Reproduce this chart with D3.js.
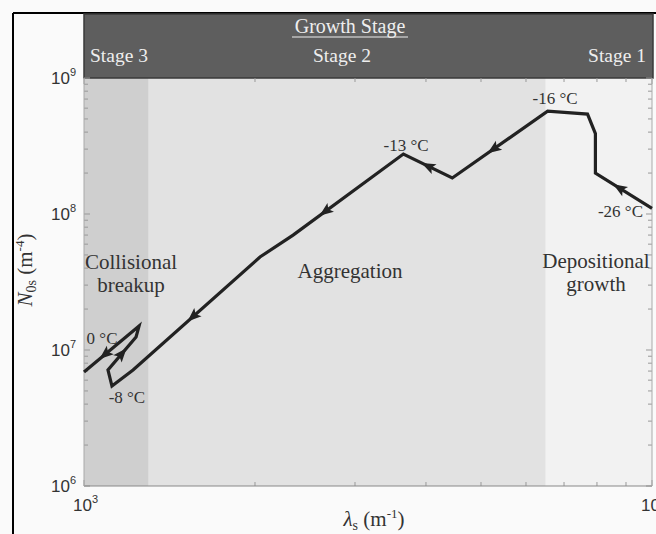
<!DOCTYPE html>
<html>
<head>
<meta charset="utf-8">
<script src="https://cdn.jsdelivr.net/npm/d3@7"></script>
<style>
  body { margin: 0; background: #fafafa; }
  svg { display: block; }
</style>
</head>
<body>
<svg id="chart"></svg>
<script>
// trajectory, from -26 C (right) to 0 C (left)
var lambdaVals = [10000, 7950, 7950, 7700, 6550, 4450, 3650, 2334, 2041, 1220, 1120, 1102, 1235, 1250, 1000];
var n0Vals     = [1.1e8, 2.0e8, 3.9e8, 5.43e8, 5.7e8, 1.84e8, 2.76e8, 7.0e7, 4.83e7, 7.13e6, 5.43e6, 7.13e6, 1.246e7, 1.5e7, 6.89e6];

// arrows: which segment and where on it
var arrowSeg = [0, 4, 5, 6, 8, 11, 13];
var arrowT   = [0.58, 0.57, 0.5, 0.71, 0.53, 0.5, 0.62];

// temperature labels
var tempText   = ["-26 °C", "-16 °C", "-13 °C", "-8 °C", "0 °C"];
var tempLambda = [8800, 6750, 3690, 1190, 1076];
var tempN0     = [9.5e7, 6.4e8, 2.9e8, 4.07e6, 1.107e7];

// stage bounds (lambda)
var stageNames = ["Stage 3", "Stage 2", "Stage 1"];
var stageFrom  = [1000, 1300, 6500];
var stageTo    = [1300, 6500, 10000];
var stageFill  = ["#cfcfcf", "#e2e2e2", "#f2f2f2"];

var xTicks = [1e3, 1e4], xExp = ["3", "4"];
var yTicks = [1e6, 1e7, 1e8, 1e9], yExp = ["6", "7", "8", "9"];

var W = 656, H = 534;
var pL = 84, pR = 652, pT = 78, pB = 486;

var svg = d3.select("#chart").attr("width", W).attr("height", H);

var x = d3.scaleLog().domain([1e3, 1e4]).range([pL, pR]);
var y = d3.scaleLog().domain([1e6, 1e9]).range([pB, pT]);

// frame
svg.append("rect").attr("width", W).attr("height", H).attr("fill", "#fafafa");
svg.append("line").attr("x1", 13).attr("x2", 13).attr("y1", 13).attr("y2", H).attr("stroke", "#000").attr("stroke-width", 2);
svg.append("line").attr("x1", 13).attr("x2", W).attr("y1", 13).attr("y2", 13).attr("stroke", "#000").attr("stroke-width", 2);

// stage shading
svg.selectAll(".stage").data(stageFrom).enter().append("rect")
  .attr("x", function(d) { return x(d); })
  .attr("width", function(d, i) { return x(stageTo[i]) - x(d); })
  .attr("y", pT).attr("height", pB - pT)
  .attr("fill", function(d, i) { return stageFill[i]; });

// header band
svg.append("rect").attr("x", pL).attr("y", 14).attr("width", pR - pL + 1).attr("height", pT - 14)
  .attr("fill", "#5e5e5e").attr("stroke", "#3a3a3a").attr("stroke-width", 1.5);

var serif = "'Liberation Serif', 'Times New Roman', serif";
var sans = "'Liberation Sans', Arial, sans-serif";

svg.append("text").attr("x", 350).attr("y", 33).attr("text-anchor", "middle")
  .attr("font-family", serif).attr("font-size", 20).attr("fill", "#eee").text("Growth Stage");
svg.append("line").attr("x1", 292).attr("x2", 408).attr("y1", 37).attr("y2", 37).attr("stroke", "#eee").attr("stroke-width", 1);

var stX = [90, 342, 646], stAnchor = ["start", "middle", "end"];
svg.selectAll(".stname").data(stageNames).enter().append("text")
  .attr("x", function(d, i) { return stX[i]; }).attr("y", 62)
  .attr("text-anchor", function(d, i) { return stAnchor[i]; })
  .attr("font-family", serif).attr("font-size", 19.5).attr("fill", "#eee")
  .text(function(d) { return d; });

// ticks
var minorX = [], minorY = [];
[1e3].forEach(function(b) { for (var k = 2; k <= 9; k++) minorX.push(b * k); });
[1e6, 1e7, 1e8].forEach(function(b) { for (var k = 2; k <= 9; k++) minorY.push(b * k); });

var tk = svg.append("g").attr("stroke", "#999").attr("stroke-width", 1);
xTicks.concat(minorX).forEach(function(v) {
  var len = xTicks.indexOf(v) >= 0 ? 6 : 4;
  tk.append("line").attr("x1", x(v)).attr("x2", x(v)).attr("y1", pB).attr("y2", pB - len);
  tk.append("line").attr("x1", x(v)).attr("x2", x(v)).attr("y1", pT).attr("y2", pT + len);
});
yTicks.concat(minorY).forEach(function(v) {
  var len = yTicks.indexOf(v) >= 0 ? 6 : 4;
  tk.append("line").attr("y1", y(v)).attr("y2", y(v)).attr("x1", pL).attr("x2", pL + len);
  tk.append("line").attr("y1", y(v)).attr("y2", y(v)).attr("x1", pR).attr("x2", pR - len);
});
svg.append("line").attr("x1", pL).attr("x2", pR).attr("y1", pB).attr("y2", pB).attr("stroke", "#888");
svg.append("line").attr("x1", pL).attr("x2", pL).attr("y1", pT).attr("y2", pB).attr("stroke", "#aaa");
svg.append("line").attr("x1", pR).attr("x2", pR).attr("y1", pT).attr("y2", pB).attr("stroke", "#aaa");

// tick labels
yTicks.forEach(function(v, i) {
  var t = svg.append("text").attr("x", 76).attr("y", y(v) + 6).attr("text-anchor", "end")
    .attr("font-family", sans).attr("font-size", 17).attr("fill", "#333");
  t.append("tspan").text("10");
  t.append("tspan").attr("dy", -8).attr("font-size", 11).text(yExp[i]);
});
xTicks.forEach(function(v, i) {
  var t = svg.append("text").attr("x", x(v) - 11).attr("y", 511)
    .attr("font-family", sans).attr("font-size", 17).attr("fill", "#333");
  t.append("tspan").text("10");
  t.append("tspan").attr("dy", -8).attr("font-size", 11).text(xExp[i]);
});

// axis titles
var yl = svg.append("text").attr("transform", "translate(32,270) rotate(-90)").attr("text-anchor", "middle")
  .attr("font-family", serif).attr("font-size", 21).attr("fill", "#333");
yl.append("tspan").attr("font-style", "italic").text("N");
yl.append("tspan").attr("dy", 4).attr("font-size", 14).text("0s");
yl.append("tspan").attr("dy", -4).text(" (m");
yl.append("tspan").attr("dy", -8).attr("font-size", 13).text("-4");
yl.append("tspan").attr("dy", 8).text(")");

var xl = svg.append("text").attr("x", 374).attr("y", 526).attr("text-anchor", "middle")
  .attr("font-family", serif).attr("font-size", 21).attr("fill", "#333");
xl.append("tspan").attr("font-style", "italic").text("λ");
xl.append("tspan").attr("dy", 4).attr("font-size", 14).text("s");
xl.append("tspan").attr("dy", -4).text(" (m");
xl.append("tspan").attr("dy", -8).attr("font-size", 13).text("-1");
xl.append("tspan").attr("dy", 8).text(")");

// region names
var regText = [["Collisional", "breakup"], ["Aggregation"], ["Depositional", "growth"]];
var regX = [131, 350, 596], regY = [269, 278, 268];
regText.forEach(function(lines, i) {
  lines.forEach(function(s, j) {
    svg.append("text").attr("x", regX[i]).attr("y", regY[i] + j * 23).attr("text-anchor", "middle")
      .attr("font-family", serif).attr("font-size", 21).attr("fill", "#333").text(s);
  });
});

// trajectory
var pts = lambdaVals.map(function(l, i) { return [x(l), y(n0Vals[i])]; });
var plot = svg.append("g");
plot.append("path").attr("d", d3.line()(pts))
  .attr("fill", "none").attr("stroke", "#222").attr("stroke-width", 3.2).attr("stroke-linejoin", "miter");

arrowSeg.forEach(function(s, i) {
  var a = pts[s], b = pts[s + 1], t = arrowT[i];
  var px = a[0] + (b[0] - a[0]) * t, py = a[1] + (b[1] - a[1]) * t;
  var ang = Math.atan2(b[1] - a[1], b[0] - a[0]) * 180 / Math.PI;
  plot.append("path").attr("d", "M7,0 L-7,-5.5 L-4,0 L-7,5.5 Z")
    .attr("transform", "translate(" + px + "," + py + ") rotate(" + ang + ")")
    .attr("fill", "#222");
});

svg.selectAll(".temp").data(tempText).enter().append("text")
  .attr("x", function(d, i) { return x(tempLambda[i]); })
  .attr("y", function(d, i) { return y(tempN0[i]); })
  .attr("text-anchor", "middle").attr("font-family", serif).attr("font-size", 17).attr("fill", "#333")
  .text(function(d) { return d; });
</script>
</body>
</html>
